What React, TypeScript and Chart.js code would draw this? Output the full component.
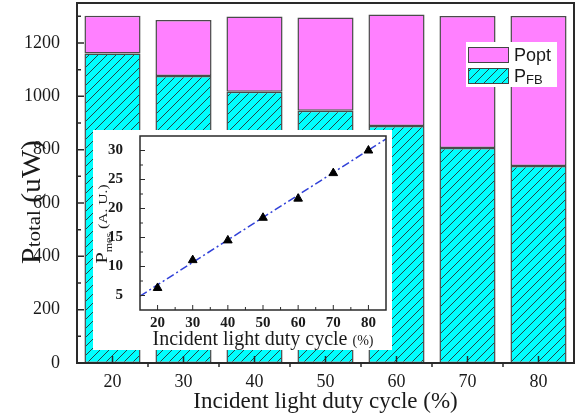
import React, { useEffect, useRef } from "react";
import { Chart, registerables } from "chart.js";

Chart.register(...registerables);

// ---- Main chart data ----
const CATEGORIES = ["20", "30", "40", "50", "60", "70", "80"];
const P_FB = [1161, 1076, 1017, 946, 889, 806, 739];
const P_OPT = [141, 210, 282, 350, 418, 495, 562];
const Y_TICKS = [0, 200, 400, 600, 800, 1000, 1200];
const Y_MINOR = [100, 300, 500, 700, 900, 1100, 1300];
const Y_MAX = 1350;

// ---- Inset data ----
const INSET_X = [20, 30, 40, 50, 60, 70, 80];
const INSET_Y = [6.3, 11.1, 14.5, 18.4, 21.7, 26.1, 30.0];
const FIT_X = [15, 85];
const FIT_Y = [4.9, 32.0];
const INSET_X_TICKS = [20, 30, 40, 50, 60, 70, 80];
const INSET_X_MINOR = [25, 35, 45, 55, 65, 75];
const INSET_Y_TICKS = [5, 10, 15, 20, 25, 30];
const INSET_Y_MINOR = [7.5, 12.5, 17.5, 22.5, 27.5];

const SERIF = "'Liberation Serif', 'Times New Roman', serif";
const SANS = "'Liberation Sans', Arial, sans-serif";
const INK = "#1a1a1a";
const MAGENTA = "#FF80FF";
const CYAN = "#00FFFF";

function makeHatch(): CanvasPattern | string {
  const s = 9;
  const c = document.createElement("canvas");
  c.width = s;
  c.height = s;
  const g = c.getContext("2d");
  if (!g) return CYAN;
  g.fillStyle = CYAN;
  g.fillRect(0, 0, s, s);
  g.strokeStyle = "#244848";
  g.lineWidth = 1;
  g.beginPath();
  g.moveTo(0, s);
  g.lineTo(s, 0);
  g.moveTo(-2, 2);
  g.lineTo(2, -2);
  g.moveTo(s - 2, s + 2);
  g.lineTo(s + 2, s - 2);
  g.stroke();
  const p = g.createPattern(c, "repeat");
  return p || CYAN;
}

type Part = { text: string; font: string; dy: number };

function drawRotatedRich(ctx: CanvasRenderingContext2D, x: number, yc: number, parts: Part[], stretch: number) {
  ctx.save();
  ctx.translate(x, yc);
  ctx.rotate(-Math.PI / 2);
  ctx.scale(stretch, 1);
  let total = 0;
  const widths = parts.map((p) => {
    ctx.font = p.font;
    const w = ctx.measureText(p.text).width;
    total += w;
    return w;
  });
  let cx = -total / 2;
  ctx.fillStyle = INK;
  ctx.textBaseline = "alphabetic";
  ctx.textAlign = "left";
  parts.forEach((p, i) => {
    ctx.font = p.font;
    ctx.fillText(p.text, cx, p.dy);
    cx += widths[i];
  });
  ctx.restore();
}

function drawRich(ctx: CanvasRenderingContext2D, xc: number, y: number, parts: Part[]) {
  ctx.save();
  let total = 0;
  const widths = parts.map((p) => {
    ctx.font = p.font;
    const w = ctx.measureText(p.text).width;
    total += w;
    return w;
  });
  let cx = xc - total / 2;
  ctx.fillStyle = INK;
  ctx.textBaseline = "alphabetic";
  ctx.textAlign = "left";
  parts.forEach((p, i) => {
    ctx.font = p.font;
    ctx.fillText(p.text, cx, y + p.dy);
    cx += widths[i];
  });
  ctx.restore();
}

const plainLabel = (v: any) => String(v);

export default function App() {
  const mainRef = useRef<HTMLCanvasElement>(null);
  const insetRef = useRef<HTMLCanvasElement>(null);

  useEffect(() => {
    if (!mainRef.current || !insetRef.current) return;
    const hatch = makeHatch();

    const mainPlugin = {
      id: "mainDecor",
      afterDraw(chart: any) {
        const ctx: CanvasRenderingContext2D = chart.ctx;
        const { left, right, top, bottom } = chart.chartArea;
        const xs = chart.scales.x;
        const ys = chart.scales.y;
        ctx.save();
        ctx.strokeStyle = "#2a2a2a";
        ctx.lineWidth = 2;
        ctx.strokeRect(left, top, right - left, bottom - top);
        ctx.lineWidth = 1.5;
        ctx.beginPath();
        Y_TICKS.forEach((v) => {
          const y = ys.getPixelForValue(v);
          ctx.moveTo(left, y);
          ctx.lineTo(left + 7, y);
        });
        Y_MINOR.forEach((v) => {
          const y = ys.getPixelForValue(v);
          ctx.moveTo(left, y);
          ctx.lineTo(left + 4, y);
        });
        CATEGORIES.forEach((c, i) => {
          const x = xs.getPixelForValue(i);
          ctx.moveTo(x, bottom);
          ctx.lineTo(x, bottom - 7);
          if (i > 0) {
            const xb = (x + xs.getPixelForValue(i - 1)) / 2;
            ctx.moveTo(xb, bottom);
            ctx.lineTo(xb, bottom + 4);
          }
        });
        ctx.stroke();

        // x title
        drawRich(ctx, (left + right) / 2, 408, [
          { text: "Incident light duty cycle (%)", font: `23px ${SERIF}`, dy: 0 },
        ]);
        // y title
        drawRotatedRich(
          ctx,
          40,
          202,
          [
            { text: "P", font: `27px ${SERIF}`, dy: 0 },
            { text: "total", font: `19px ${SERIF}`, dy: 0 },
            { text: " (uW)", font: `27px ${SERIF}`, dy: 0 },
          ],
          1.1
        );

        // legend
        ctx.fillStyle = "#ffffff";
        ctx.fillRect(466, 42, 91, 45);
        ctx.lineWidth = 1;
        ctx.strokeStyle = "#444";
        ctx.fillStyle = MAGENTA;
        ctx.fillRect(468, 47, 40, 15);
        ctx.strokeRect(468.5, 47.5, 40, 15);
        ctx.fillStyle = hatch as any;
        ctx.fillRect(468, 68, 40, 15);
        ctx.strokeRect(468.5, 68.5, 40, 15);
        ctx.fillStyle = INK;
        ctx.textBaseline = "alphabetic";
        ctx.textAlign = "left";
        ctx.font = `18px ${SANS}`;
        ctx.fillText("Popt", 514, 61);
        ctx.fillText("P", 514, 82);
        const pw = ctx.measureText("P").width;
        ctx.font = `13px ${SANS}`;
        ctx.fillText("FB", 514 + pw, 84);
        ctx.restore();
      },
    };

    const mainChart = new Chart(mainRef.current, {
      type: "bar",
      data: {
        labels: CATEGORIES,
        datasets: [
          {
            label: "PFB",
            data: P_FB,
            backgroundColor: hatch as any,
            borderColor: "#4a4a4a",
            borderWidth: 1.5,
            borderSkipped: false,
            categoryPercentage: 1,
            barPercentage: 0.79,
          },
          {
            label: "Popt",
            data: P_OPT,
            backgroundColor: MAGENTA,
            borderColor: "#4a4a4a",
            borderWidth: 1.5,
            borderSkipped: false,
            categoryPercentage: 1,
            barPercentage: 0.79,
          },
        ],
      },
      options: {
        animation: false,
        responsive: false,
        devicePixelRatio: 1,
        layout: { padding: { top: 3, right: 1, left: 0, bottom: 0 } },
        plugins: { legend: { display: false }, tooltip: { enabled: false } },
        scales: {
          x: {
            stacked: true,
            grid: { display: false },
            border: { display: false },
            ticks: { font: { family: SERIF, size: 18 }, color: INK, padding: 0 },
            afterFit: (s: any) => {
              s.height = 52;
              s.paddingLeft = 0;
              s.paddingRight = 0;
            },
          },
          y: {
            stacked: true,
            min: 0,
            max: Y_MAX,
            grid: { display: false },
            border: { display: false },
            ticks: { font: { family: SERIF, size: 18 }, color: INK, padding: 9, callback: plainLabel },
            afterBuildTicks: (s: any) => {
              s.ticks = Y_TICKS.map((v) => ({ value: v }));
            },
            afterFit: (s: any) => {
              s.width = 77;
              s.paddingTop = 0;
              s.paddingBottom = 0;
            },
          },
        },
      },
      plugins: [mainPlugin],
    } as any);

    const insetPlugin = {
      id: "insetDecor",
      afterDraw(chart: any) {
        const ctx: CanvasRenderingContext2D = chart.ctx;
        const { left, right, top, bottom } = chart.chartArea;
        const xs = chart.scales.x;
        const ys = chart.scales.y;
        ctx.save();
        ctx.strokeStyle = "#2a2a2a";
        ctx.lineWidth = 1.5;
        ctx.strokeRect(left, top, right - left, bottom - top);
        ctx.lineWidth = 1;
        ctx.beginPath();
        INSET_Y_TICKS.forEach((v) => {
          const y = ys.getPixelForValue(v);
          ctx.moveTo(left, y);
          ctx.lineTo(left + 5, y);
        });
        INSET_Y_MINOR.forEach((v) => {
          const y = ys.getPixelForValue(v);
          ctx.moveTo(left, y);
          ctx.lineTo(left + 3, y);
        });
        INSET_X_TICKS.forEach((v) => {
          const x = xs.getPixelForValue(v);
          ctx.moveTo(x, bottom);
          ctx.lineTo(x, bottom - 5);
        });
        INSET_X_MINOR.forEach((v) => {
          const x = xs.getPixelForValue(v);
          ctx.moveTo(x, bottom);
          ctx.lineTo(x, bottom - 3);
        });
        ctx.stroke();

        drawRich(ctx, (left + right) / 2, 215, [
          { text: "Incident light duty cycle ", font: `20px ${SERIF}`, dy: 0 },
          { text: "(%)", font: `14px ${SERIF}`, dy: 0 },
        ]);
        drawRotatedRich(
          ctx,
          14,
          94,
          [
            { text: "P", font: `17px ${SERIF}`, dy: 0 },
            { text: "mes", font: `10px ${SERIF}`, dy: 5 },
            { text: " (A. U.)", font: `13px ${SERIF}`, dy: 0 },
          ],
          1.2
        );
        ctx.restore();
      },
    };

    const insetChart = new Chart(insetRef.current, {
      type: "scatter",
      data: {
        datasets: [
          {
            label: "Pmes",
            data: INSET_X.map((x, i) => ({ x, y: INSET_Y[i] })),
            showLine: false,
            pointStyle: "triangle",
            pointRadius: 5,
            backgroundColor: "#000",
            borderColor: "#000",
          },
          {
            label: "fit",
            data: FIT_X.map((x, i) => ({ x, y: FIT_Y[i] })),
            showLine: true,
            borderColor: "#3040d8",
            borderWidth: 1.5,
            borderDash: [8, 3, 2, 3],
            pointRadius: 0,
            fill: false,
          },
        ],
      },
      options: {
        animation: false,
        responsive: false,
        devicePixelRatio: 1,
        layout: { padding: { top: 2, right: 2, left: 0, bottom: 0 } },
        plugins: { legend: { display: false }, tooltip: { enabled: false } },
        scales: {
          x: {
            type: "linear",
            min: 15,
            max: 85,
            grid: { display: false },
            border: { display: false },
            ticks: { font: { family: SERIF, size: 15, weight: "bold" }, color: INK, padding: -4, callback: plainLabel },
            afterBuildTicks: (s: any) => {
              s.ticks = INSET_X_TICKS.map((v) => ({ value: v }));
            },
            afterFit: (s: any) => {
              s.height = 40;
              s.paddingLeft = 0;
              s.paddingRight = 0;
            },
          },
          y: {
            type: "linear",
            min: 2.5,
            max: 32.5,
            grid: { display: false },
            border: { display: false },
            ticks: { font: { family: SERIF, size: 15, weight: "bold" }, color: INK, padding: 9, callback: plainLabel },
            afterBuildTicks: (s: any) => {
              s.ticks = INSET_Y_TICKS.map((v) => ({ value: v }));
            },
            afterFit: (s: any) => {
              s.width = 47;
              s.paddingTop = 0;
              s.paddingBottom = 0;
            },
          },
        },
      },
      plugins: [insetPlugin],
    } as any);

    return () => {
      mainChart.destroy();
      insetChart.destroy();
    };
  }, []);

  return (
    <div style={{ position: "fixed", left: 0, top: 0, width: 575, height: 415, background: "#fff" }}>
      <canvas ref={mainRef} width={575} height={415} style={{ position: "absolute", left: 0, top: 0 }} />
      <canvas
        ref={insetRef}
        width={299}
        height={220}
        style={{ position: "absolute", left: 93, top: 130, background: "#fff" }}
      />
    </div>
  );
}
